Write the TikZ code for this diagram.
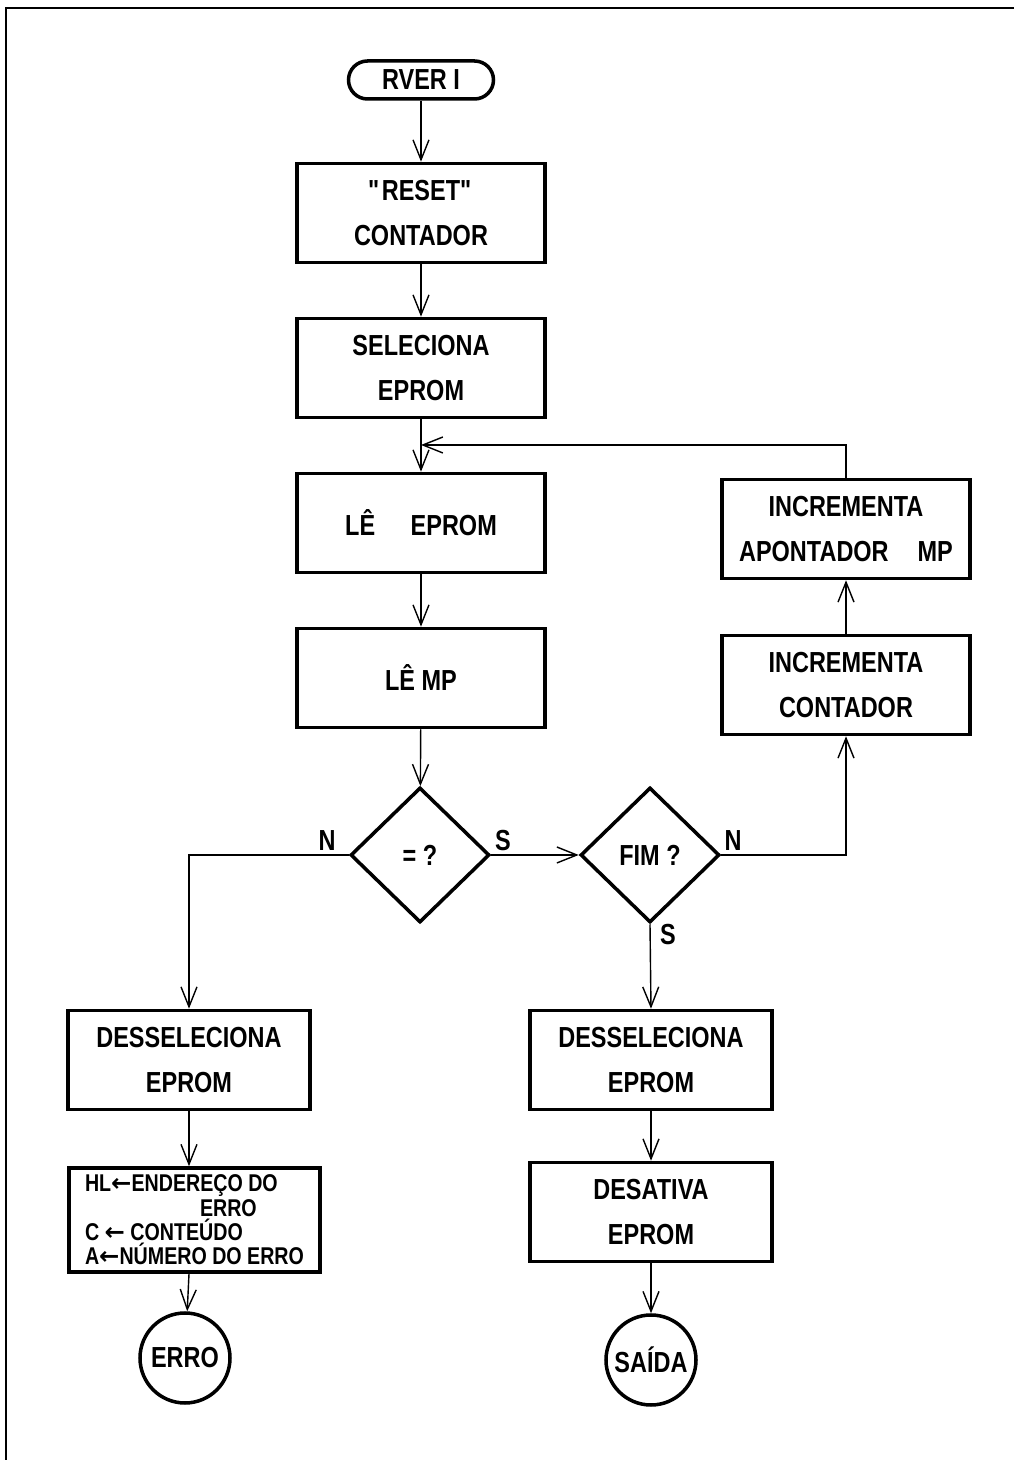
\documentclass[tikz,border=0pt]{standalone}
\usepackage{fontspec}
\setmainfont{Liberation Sans Bold}[FakeStretch=0.81]
\newfontfamily\setafont{DejaVu Sans Bold}
\usetikzlibrary{arrows.meta,shapes.geometric}

\begin{document}
\begin{tikzpicture}[
  caixa/.style={draw,line width=2pt,minimum width=4.96cm,minimum height=1.98cm,align=center,font=\fontsize{16.5}{26}\selectfont},
  losango/.style={draw,diamond,line width=2pt,minimum width=2.78cm,minimum height=2.7cm,inner sep=0pt,font=\fontsize{16.5}{18}\selectfont},
  circulo/.style={draw,circle,line width=2pt,minimum size=1.8cm,inner sep=0pt,font=\fontsize{16.5}{18}\selectfont},
  seta/.style={line width=0.8pt,-{Straight Barb[length=0.4cm,width=0.32cm]}},
  rotulo/.style={font=\fontsize{16.5}{18}\selectfont}]
\useasboundingbox (0,0) rectangle (20.28,29.2);
\draw[line width=1pt] (20.28,29.04) -- (0.12,29.04) -- (0.12,0);

\node[draw,line width=2pt,rounded corners=0.38cm,minimum width=2.9cm,minimum height=0.76cm,font=\fontsize{16.5}{18}\selectfont] (rveri) at (8.42,27.6) {RVER I};
\node[caixa] (reset) at (8.42,24.94) {\textquotedbl RESET\textquotedbl\\CONTADOR};
\node[caixa] (sel) at (8.42,21.84) {SELECIONA\\EPROM};
\node[caixa] (lee) at (8.42,18.74) {LÊ\quad\ EPROM};
\node[caixa] (lemp) at (8.42,15.64) {LÊ MP};
\node[losango] (igual) at (8.40,12.10) {= ?};
\node[losango] (fim) at (13.0,12.10) {FIM ?};
\node[caixa] (incA) at (16.92,18.62) {INCREMENTA\\APONTADOR\quad MP};
\node[caixa] (incC) at (16.92,15.50) {INCREMENTA\\CONTADOR};
\node[caixa,minimum width=4.84cm] (desL) at (3.78,8.0) {DESSELECIONA\\EPROM};
\node[draw,line width=2pt,minimum width=5.02cm,minimum height=2.08cm,inner sep=1pt,align=left,font=\fontsize{13.8}{13.8}\selectfont] (hl) at (3.89,4.8)
  {HL{\setafont ←}ENDEREÇO DO\\\hspace*{2.3cm}ERRO\\C {\setafont ←} CONTEÚDO\\A{\setafont ←}NÚMERO DO ERRO};
\node[circulo] (erro) at (3.70,2.04) {ERRO};
\node[caixa,minimum width=4.84cm] (desR) at (13.02,8.0) {DESSELECIONA\\EPROM};
\node[caixa,minimum width=4.84cm] (desat) at (13.02,4.96) {DESATIVA\\EPROM};
\node[circulo] (saida) at (13.02,2.0) {SAÍDA};
\coordinate (volta) at (8.42,20.3);

\node[rotulo] (n1) at (6.54,12.38) {N};
\node[rotulo] (s1) at (10.06,12.38) {S};
\node[rotulo] (n2) at (14.66,12.38) {N};
\node[rotulo] (s2) at (13.36,10.5) {S};

\draw[seta] (rveri) -- (reset);
\draw[seta] (reset) -- (sel);
\draw[seta] (sel) -- (lee);
\draw[seta] (lee) -- (lemp);
\draw[seta] (lemp) -- (igual);
\draw[seta] (igual.west) -| (desL.north);
\draw[seta] (igual.east) -- (fim.west);
\draw[seta] (fim.east) -| (incC.south);
\draw[seta] (incC) -- (incA);
\draw[seta] (incA.north) |- (volta);
\draw[seta] (desL) -- (desL.south |- hl.north);
\draw[seta] (desL.south |- hl.south) -- (erro);
\draw[seta] (fim.south) -- (desR.north);
\draw[seta] (desR) -- (desat);
\draw[seta] (desat) -- (saida);
\end{tikzpicture}
\end{document}
